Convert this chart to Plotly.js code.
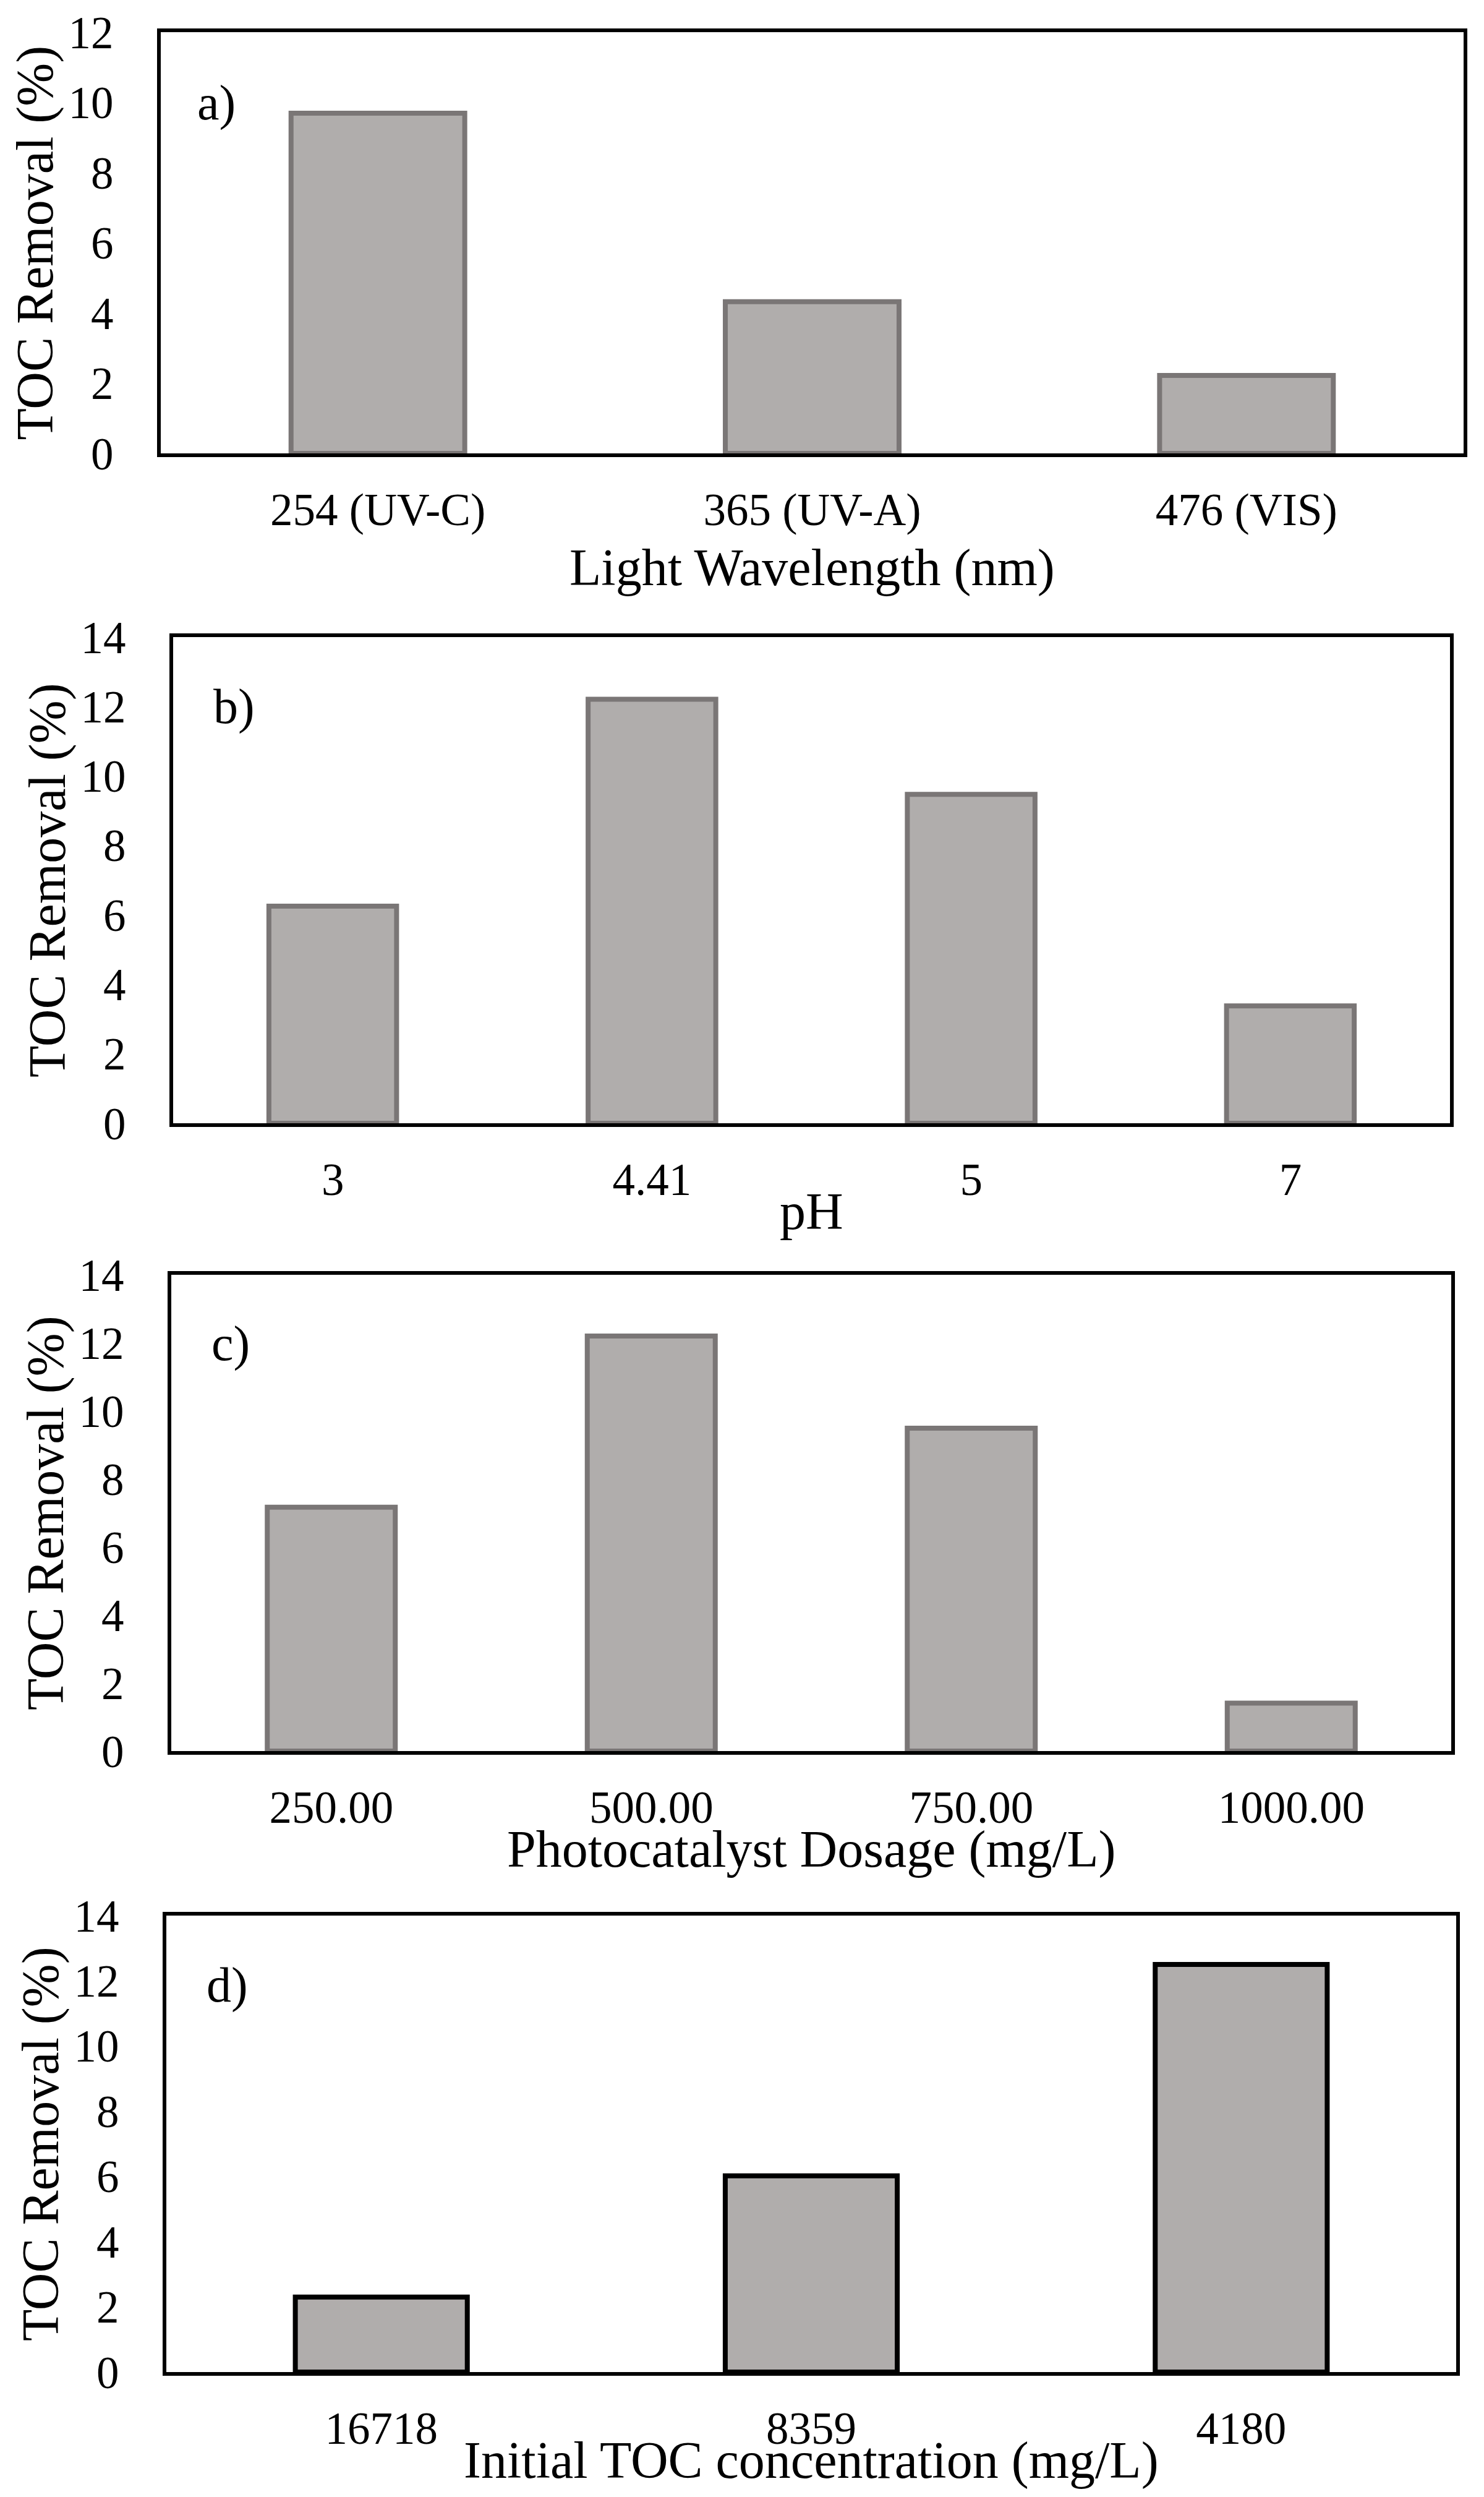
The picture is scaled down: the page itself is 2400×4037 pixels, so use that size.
<!DOCTYPE html>
<html>
<head>
<meta charset="utf-8">
<script src="https://cdn.plot.ly/plotly-3.0.1.min.js"></script>
<style>
  html, body { margin: 0; padding: 0; background: #fff; }
  #chart { width: 2400px; height: 4037px; }
</style>
</head>
<body>
<div id="chart"></div>
<script>
// TOC removal (%)
const wavelengthLabels = ["254 (UV-C)", "365 (UV-A)", "476 (VIS)"];
const wavelengthRemoval = [9.69, 4.32, 2.22];

const phLabels = ["3", "4.41", "5", "7"];
const phRemoval = [6.25, 12.21, 9.47, 3.38];

const dosageLabels = ["250.00", "500.00", "750.00", "1000.00"];
const dosageRemoval = [7.17, 12.2, 9.49, 1.41];

const tocLabels = ["16718", "8359", "4180"];
const tocRemoval = [2.3, 6.02, 12.5];

const W = 2400, H = 4037;
const FONT = "Liberation Serif, Times New Roman, serif";
const px = v => v / W;
const py = v => 1 - v / H;

// panel frames in pixels: left, right, top, bottom
const panels = [
    { key: "a", labels: wavelengthLabels, values: wavelengthRemoval, ymax: 12, box: [260, 2367, 52, 733],
      xtitle: "Light Wavelength (nm)", xtitleY: 918, letterX: 317, letterY: 166, border: "#7a7676" },
    { key: "b", labels: phLabels, values: phRemoval, ymax: 14, box: [280, 2345, 1030, 1816],
      xtitle: "pH", xtitleY: 1958, letterX: 343, letterY: 1142, border: "#7a7676" },
    { key: "c", labels: dosageLabels, values: dosageRemoval, ymax: 14, box: [277, 2347, 2061, 2831],
      xtitle: "Photocatalyst Dosage (mg/L)", xtitleY: 2990, letterX: 340, letterY: 2172, border: "#7a7676" },
    { key: "d", labels: tocLabels, values: tocRemoval, ymax: 14, box: [269, 2355, 3097, 3835],
      xtitle: "Initial TOC concentration (mg/L)", xtitleY: 3978, letterX: 332, letterY: 3209, border: "#000000" }
];

const traces = [];
const annotations = [];
const layout = {
    width: W,
    height: H,
    margin: { t: 0, r: 0, b: 0, l: 0 },
    paper_bgcolor: "#ffffff",
    plot_bgcolor: "#ffffff",
    showlegend: false,
    font: { family: FONT, color: "#000000", size: 73 },
    annotations
};

panels.forEach((p, i) => {
    const n = i === 0 ? "" : String(i + 1);
    const [l, r, t, b] = p.box;

    traces.push({
        type: "bar",
        x: p.labels,
        y: p.values,
        xaxis: "x" + n,
        yaxis: "y" + n,
        width: 0.4,
        marker: { color: "#b0adac", line: { color: p.border, width: 8 } },
        hoverinfo: "skip"
    });

    layout["xaxis" + n] = {
        domain: [px(l), px(r)],
        anchor: "y" + n,
        type: "category",
        showline: true,
        mirror: true,
        linecolor: "#000000",
        linewidth: 6,
        showgrid: false,
        zeroline: false,
        ticks: "",
        ticklabelstandoff: 22,
        tickfont: { family: FONT, size: 73, color: "#000000" },
        fixedrange: true
    };

    layout["yaxis" + n] = {
        domain: [py(b), py(t)],
        anchor: "x" + n,
        range: [0, p.ymax],
        dtick: 2,
        showline: true,
        mirror: true,
        linecolor: "#000000",
        linewidth: 6,
        showgrid: false,
        zeroline: false,
        ticks: "",
        ticklabelstandoff: 56,
        tickfont: { family: FONT, size: 73, color: "#000000" },
        fixedrange: true
    };

    // axis titles and panel letter
    annotations.push({
        text: "TOC Removal (%)",
        xref: "paper", yref: "paper",
        x: px(l - 203), y: py((t + b) / 2),
        xanchor: "center", yanchor: "middle",
        textangle: -90,
        showarrow: false,
        font: { family: FONT, size: 84, color: "#000000" }
    });
    annotations.push({
        text: p.xtitle,
        xref: "paper", yref: "paper",
        x: px((l + r) / 2), y: py(p.xtitleY),
        xanchor: "center", yanchor: "middle",
        showarrow: false,
        font: { family: FONT, size: 84, color: "#000000" }
    });
    annotations.push({
        text: p.key + ")",
        xref: "paper", yref: "paper",
        x: px(p.letterX), y: py(p.letterY),
        xanchor: "left", yanchor: "middle",
        showarrow: false,
        font: { family: FONT, size: 80, color: "#000000" }
    });
});

Plotly.newPlot("chart", traces, layout, { displayModeBar: false, staticPlot: true });
</script>
</body>
</html>
